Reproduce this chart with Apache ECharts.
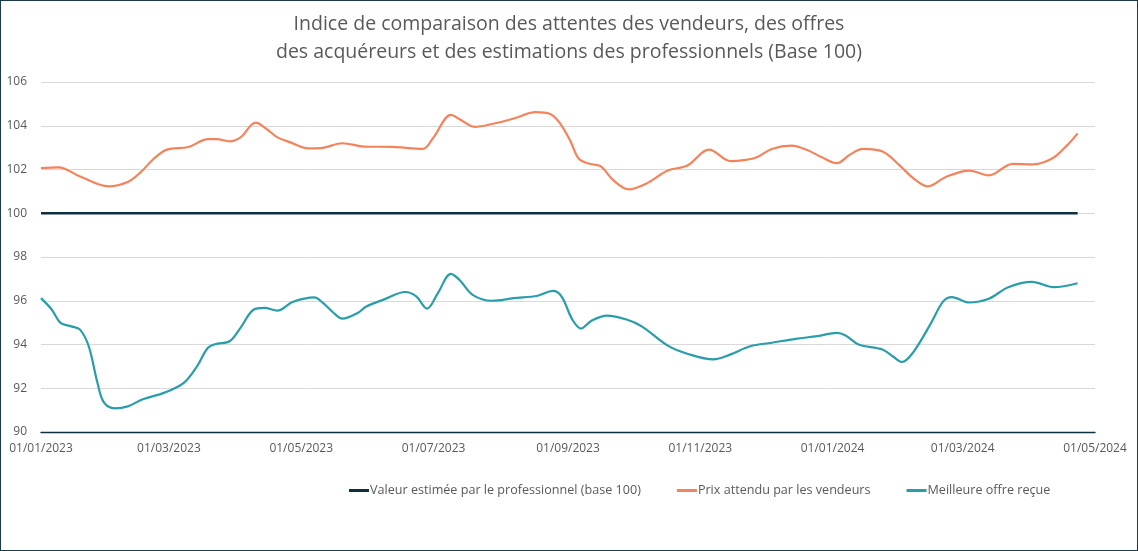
<!DOCTYPE html>
<html>
<head>
<meta charset="utf-8">
<script src="https://cdn.jsdelivr.net/npm/echarts@6/dist/echarts.min.js"></script>
<style>
  html, body { margin: 0; padding: 0; background: #fff; }
  #wrap { width: 1136px; height: 549px; border: 1px solid #1c3a4a; }
  #chart { width: 1136px; height: 549px; }
</style>
</head>
<body>
<div id="wrap"><div id="chart"></div></div>
<script>
// ---- Data ----
const titleLines = [
  'Indice de comparaison des attentes des vendeurs, des offres',
  'des acquéreurs et des estimations des professionnels (Base 100)'
];
const seriesNames = [
  'Valeur estimée par le professionnel (base 100)',
  'Prix attendu par les vendeurs',
  'Meilleure offre reçue'
];
const xTickLabels = ['01/01/2023','01/03/2023','01/05/2023','01/07/2023','01/09/2023','01/11/2023','01/01/2024','01/03/2024','01/05/2024'];
const yTicks = [90, 92, 94, 96, 98, 100, 102, 104, 106];

const baseDates = ['2023-01-01', '2024-04-23'];
const baseValues = [100, 100];

const sellerDates = ['2023-01-01','2023-01-09','2023-01-19','2023-02-01','2023-02-10','2023-02-16','2023-02-22','2023-02-28','2023-03-10','2023-03-19','2023-03-23','2023-03-29','2023-04-03','2023-04-10','2023-04-15','2023-04-20','2023-04-26','2023-05-04','2023-05-10','2023-05-20','2023-05-30','2023-06-12','2023-06-26','2023-07-01','2023-07-09','2023-07-13','2023-07-20','2023-07-28','2023-08-07','2023-08-17','2023-08-24','2023-08-28','2023-09-02','2023-09-06','2023-09-11','2023-09-16','2023-09-22','2023-09-29','2023-10-07','2023-10-17','2023-10-26','2023-11-05','2023-11-15','2023-11-22','2023-11-27','2023-12-04','2023-12-13','2023-12-20','2023-12-27','2024-01-03','2024-01-09','2024-01-15','2024-01-24','2024-02-01','2024-02-07','2024-02-14','2024-02-22','2024-03-04','2024-03-13','2024-03-24','2024-04-02','2024-04-11','2024-04-18','2024-04-23'];
const sellerValues = [102.06,102.1,101.68,101.23,101.43,101.88,102.49,102.91,103.03,103.39,103.39,103.29,103.47,104.14,103.85,103.47,103.24,102.97,102.98,103.2,103.05,103.03,102.94,103.47,104.5,104.3,103.95,104.08,104.33,104.62,104.53,104.15,103.32,102.49,102.26,102.15,101.5,101.09,101.35,101.95,102.18,102.91,102.38,102.44,102.56,102.94,103.09,102.9,102.56,102.29,102.68,102.94,102.82,102.18,101.62,101.23,101.65,101.95,101.73,102.26,102.23,102.49,103.09,103.65];

const offerDates = ['2023-01-01','2023-01-06','2023-01-10','2023-01-15','2023-01-19','2023-01-23','2023-01-27','2023-01-30','2023-02-04','2023-02-10','2023-02-17','2023-02-27','2023-03-08','2023-03-14','2023-03-19','2023-03-23','2023-03-29','2023-04-03','2023-04-09','2023-04-14','2023-04-20','2023-04-27','2023-05-07','2023-05-11','2023-05-16','2023-05-20','2023-05-27','2023-05-31','2023-06-08','2023-06-18','2023-06-23','2023-06-28','2023-07-03','2023-07-09','2023-07-13','2023-07-19','2023-07-28','2023-08-07','2023-08-18','2023-08-25','2023-08-29','2023-09-03','2023-09-07','2023-09-12','2023-09-19','2023-09-28','2023-10-05','2023-10-17','2023-10-26','2023-11-07','2023-11-15','2023-11-24','2023-12-04','2023-12-15','2023-12-25','2024-01-03','2024-01-07','2024-01-13','2024-01-24','2024-01-29','2024-02-02','2024-02-07','2024-02-15','2024-02-21','2024-02-25','2024-03-04','2024-03-13','2024-03-22','2024-04-02','2024-04-12','2024-04-23'];
const offerValues = [96.12,95.59,94.99,94.83,94.68,93.92,92.26,91.35,91.08,91.17,91.5,91.8,92.26,93.01,93.85,94.03,94.15,94.76,95.59,95.67,95.55,95.94,96.15,95.9,95.44,95.18,95.44,95.74,96.05,96.4,96.2,95.64,96.35,97.23,96.95,96.27,96.0,96.12,96.23,96.45,96.2,95.14,94.73,95.1,95.32,95.14,94.83,93.95,93.58,93.32,93.55,93.92,94.08,94.26,94.38,94.53,94.41,94.0,93.77,93.44,93.2,93.62,94.91,95.97,96.17,95.92,96.09,96.62,96.86,96.62,96.8];

// ---- Helpers ----
function parseDMY(s) { const p = s.split('/'); return new Date(+p[2], +p[1] - 1, +p[0]).getTime(); }
function parseISO(s) { const p = s.split('-'); return new Date(+p[0], +p[1] - 1, +p[2]).getTime(); }
function pad(n) { return (n < 10 ? '0' : '') + n; }
function zip(dates, vals) { return dates.map((d, i) => [parseISO(d), vals[i]]); }

const colors = ['#0e2f3f', '#f4835c', '#2a9dab'];
const FONT = 'Open Sans';
const xTickValues = xTickLabels.map(parseDMY);

const chart = echarts.init(document.getElementById('chart'), null, { renderer: 'canvas' });
chart.setOption({
  animation: false,
  title: {
    text: titleLines.join('\n'),
    left: 'center',
    top: 4,
    textStyle: { fontFamily: FONT, fontSize: 19.5, fontWeight: 'normal', color: '#595959', lineHeight: 28 }
  },
  legend: {
    top: 478,
    left: 343,
    itemWidth: 20,
    itemHeight: 3,
    itemGap: 36,
    icon: 'rect',
    textStyle: { fontFamily: FONT, fontSize: 12.6, color: '#595959', padding: [0, 0, 0, -4] },
    data: seriesNames
  },
  grid: { left: 40, right: 42, top: 81, bottom: 118, containLabel: false },
  xAxis: {
    type: 'value',
    min: xTickValues[0],
    max: xTickValues[xTickValues.length - 1],
    axisLine: { show: true, onZero: false, lineStyle: { color: '#0e2f3f', width: 1.3 } },
    axisTick: { show: false },
    splitLine: { show: false },
    axisLabel: {
      customValues: xTickValues,
      showMinLabel: true,
      showMaxLabel: true,
      margin: 11,
      fontFamily: FONT,
      fontSize: 12,
      color: '#595959',
      formatter: function (v) {
        const i = xTickValues.indexOf(v);
        if (i >= 0) return xTickLabels[i];
        const d = new Date(v);
        return pad(d.getDate()) + '/' + pad(d.getMonth() + 1) + '/' + d.getFullYear();
      }
    }
  },
  yAxis: {
    type: 'value',
    min: yTicks[0],
    max: yTicks[yTicks.length - 1],
    interval: yTicks[1] - yTicks[0],
    axisLine: { show: false },
    axisTick: { show: false },
    splitLine: { lineStyle: { color: '#d9d9d9', width: 1 } },
    axisLabel: { margin: 14, fontFamily: FONT, fontSize: 12, color: '#595959' }
  },
  series: [
    {
      name: seriesNames[0], type: 'line', data: zip(baseDates, baseValues),
      symbol: 'none', lineStyle: { color: colors[0], width: 2.5 }, itemStyle: { color: colors[0] }, z: 3
    },
    {
      name: seriesNames[1], type: 'line', data: zip(sellerDates, sellerValues), smooth: 0.35,
      symbol: 'none', lineStyle: { color: colors[1], width: 2.2 }, itemStyle: { color: colors[1] }
    },
    {
      name: seriesNames[2], type: 'line', data: zip(offerDates, offerValues), smooth: 0.35,
      symbol: 'none', lineStyle: { color: colors[2], width: 2.2 }, itemStyle: { color: colors[2] }
    }
  ]
});
</script>
</body>
</html>
